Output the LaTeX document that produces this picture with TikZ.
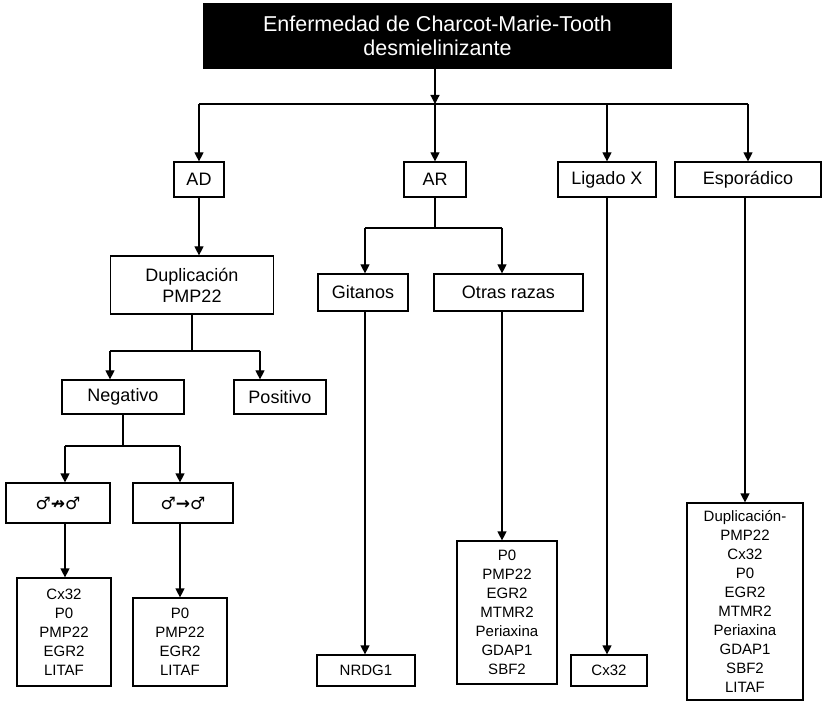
\documentclass[tikz,border=0pt]{standalone}
\usepackage{fontspec}
\setmainfont{Liberation Sans}
\newfontfamily\malefont{DejaVu Sans}
\usetikzlibrary{arrows.meta}

\begin{document}
\begin{tikzpicture}[x=1pt,y=-1pt,line width=1.2pt,>={Triangle[width=9pt,length=9pt]},
    main node/.style={draw,inner sep=0pt,align=center,font=\fontsize{18}{21}\selectfont},
    list node/.style={main node,font=\fontsize{15}{19}\selectfont},
    sex node/.style={main node,font=\malefont\bfseries\fontsize{17}{19}\selectfont}]

    \useasboundingbox (0,0) rectangle (828,703);

    % Define vertices
    \node[main node,fill=black,text=white,font=\fontsize{21.5}{24}\selectfont,
        minimum width=467pt,minimum height=64pt] (cmt) at (437.5,36)
        {Enfermedad de Charcot-Marie-Tooth\\desmielinizante};
    \node[main node,minimum width=50pt,minimum height=35pt] (ad) at (199,179.5) {AD};
    \node[main node,minimum width=62pt,minimum height=35pt] (ar) at (435,179.5) {AR};
    \node[main node,minimum width=98pt,minimum height=35pt] (lx) at (607,179.5) {Ligado X};
    \node[main node,minimum width=146pt,minimum height=35pt] (esp) at (748,179.5) {Esporádico};

    \node[main node,minimum width=163pt,minimum height=58pt] (dup) at (192,285) {Duplicación\\PMP22};
    \node[main node,minimum width=122pt,minimum height=34pt] (neg) at (123,397) {Negativo};
    \node[main node,minimum width=92pt,minimum height=34pt] (pos) at (280,397) {Positivo};
    \node[sex node,minimum width=104pt,minimum height=40pt] (mm1) at (58,503) {♂↛♂};
    \node[sex node,minimum width=100pt,minimum height=40pt] (mm2) at (183,503) {♂→♂};
    \node[list node,minimum width=94pt,minimum height=108pt] (gl1) at (64,632) {Cx32\\P0\\PMP22\\EGR2\\LITAF};
    \node[list node,minimum width=94pt,minimum height=88pt] (gl2) at (180,642) {P0\\PMP22\\EGR2\\LITAF};

    \node[main node,minimum width=90pt,minimum height=37pt] (git) at (363,292.5) {Gitanos};
    \node[main node,minimum width=149pt,minimum height=37pt] (otr) at (508.5,292.5) {Otras razas};
    \node[list node,minimum width=98pt,minimum height=31pt] (nrdg) at (366,670.5) {NRDG1};
    \node[list node,minimum width=100pt,minimum height=143pt] (gl3) at (507,612.5)
        {P0\\PMP22\\EGR2\\MTMR2\\Periaxina\\GDAP1\\SBF2};

    \node[list node,minimum width=76pt,minimum height=31pt] (cx) at (609,670.5) {Cx32};
    \node[list node,minimum width=116pt,minimum height=197pt] (gl4) at (745,601.5)
        {Duplicación-\\PMP22\\Cx32\\P0\\EGR2\\MTMR2\\Periaxina\\GDAP1\\SBF2\\LITAF};

    % Junctions
    \coordinate (j0) at (435,104);
    \coordinate (j1l) at (110,351);
    \coordinate (j1r) at (260,351);
    \coordinate (j2l) at (65,446);
    \coordinate (j2r) at (180,446);
    \coordinate (j3l) at (365,228);
    \coordinate (j3r) at (502,228);

    % Draw edges
    \draw[->] (cmt.south -| j0) -- (j0);
    \draw (ad |- j0) -- (esp |- j0);
    \path[->]
        (ad |- j0) edge (ad)
        (j0) edge (ar)
        (lx |- j0) edge (lx)
        (esp |- j0) edge (esp);

    \draw[->] (ad) -- (ad |- dup.north);
    \draw (dup) -- (dup |- j1l);
    \draw (j1l) -- (j1r);
    \path[->]
        (j1l) edge (j1l |- neg.north)
        (j1r) edge (j1r |- pos.north);
    \draw (neg) -- (neg |- j2l);
    \draw (j2l) -- (j2r);
    \path[->]
        (j2l) edge (j2l |- mm1.north)
        (j2r) edge (j2r |- mm2.north)
        (mm1.south -| j2l) edge (j2l |- gl1.north)
        (mm2.south -| j2r) edge (j2r |- gl2.north);

    \draw (ar) -- (ar |- j3l);
    \draw (j3l) -- (j3r);
    \path[->]
        (j3l) edge (j3l |- git.north)
        (j3r) edge (j3r |- otr.north)
        (git.south -| j3l) edge (j3l |- nrdg.north)
        (otr.south -| j3r) edge (j3r |- gl3.north);

    \path[->]
        (lx) edge (lx |- cx.north)
        (esp.south -| gl4) edge (gl4);

\end{tikzpicture}
\end{document}
